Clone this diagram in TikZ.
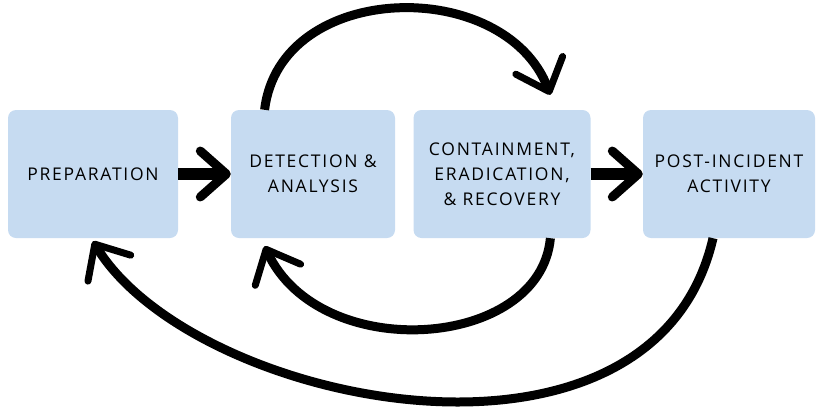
\documentclass[tikz,border=0pt]{standalone}
\usepackage{fontspec}
\newfontfamily\handfont[LetterSpace=10]{Open Sans}
\usetikzlibrary{arrows.meta}
\definecolor{phaseblue}{RGB}{198,219,241}

\begin{document}
\begin{tikzpicture}[x=1pt, y=-1pt,
	phase/.style={fill=phaseblue, rounded corners=8pt, minimum height=128pt, inner sep=0pt, align=center, font=\handfont\fontsize{17.5}{25}\selectfont},
	flow/.style={line width=12pt, -{Straight Barb[length=26pt, width=46pt, line width=9pt, round]}},
	backarc/.style={line width=9pt, -{Straight Barb[length=28pt, width=50pt, line width=7pt, round]}}]

	\useasboundingbox (0,0) rectangle (820,416);

	\node [phase, minimum width=170pt] (prep) at (93,174) {PREPARATION};
	\node [phase, minimum width=164pt] (det) at (313,174) {DETECTION \&\\ANALYSIS};
	\node [phase, minimum width=177pt] (cont) at (502,174) {CONTAINMENT,\\ERADICATION,\\\& RECOVERY};
	\node [phase, minimum width=172pt] (post) at (729,174) {POST-INCIDENT\\ACTIVITY};

	\draw [flow] (prep) -- (det);
	\draw [flow] (cont) -- (post);

	\draw [backarc] (det.127) .. controls (280,-20) and (505,-25) .. ([yshift=15pt]cont.53);
	\draw [backarc] (cont.307) .. controls (540,350) and (320,365) .. ([yshift=-8pt]det.233);
	\draw [backarc] (post.256) .. controls (653,500) and (193,406) .. ([yshift=-3pt]prep.south);

\end{tikzpicture}
\end{document}
